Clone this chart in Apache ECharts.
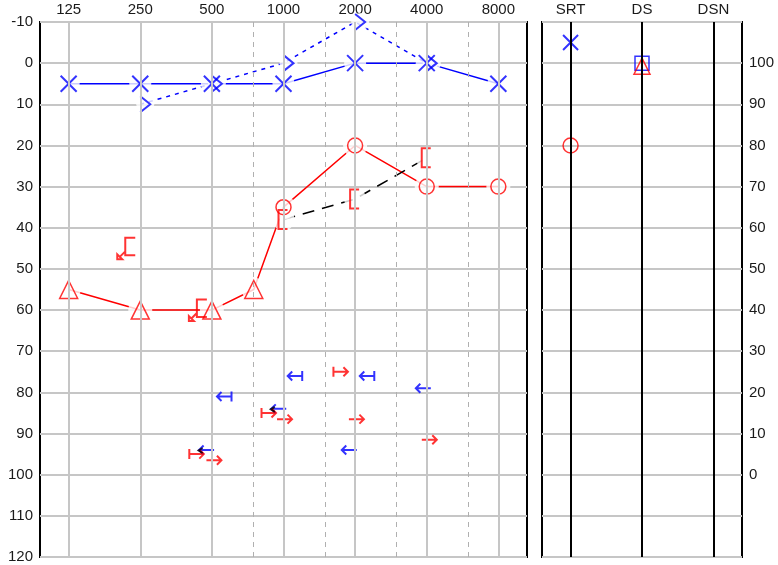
<!DOCTYPE html>
<html>
<head>
<meta charset="utf-8">
<script src="https://cdn.jsdelivr.net/npm/echarts@6/dist/echarts.min.js"></script>
<style>
  html, body { margin: 0; padding: 0; background: #fff; }
  #chart { width: 778px; height: 565px; }
</style>
</head>
<body>
<div id="chart"></div>
<script>
// top axis labels (Hz) and half-octave dashed lines
var freqLabels = [125, 250, 500, 1000, 2000, 4000, 8000];
var halfOctaves = [750, 1500, 3000, 6000];
var speechCols = ['SRT', 'DS', 'DSN'];

// left ear, air conduction (X)
var leftAirFreq = [125, 250, 500, 1000, 2000, 4000, 8000];
var leftAirDb = [5, 5, 5, 5, 0, 0, 5];
// left ear, bone conduction (>)
var leftBoneFreq = [250, 500, 1000, 2000, 4000];
var leftBoneDb = [10, 5, 0, -10, 0];
// right ear, masked air (triangles)
var rightTriFreq = [125, 250, 500, 750];
var rightTriDb = [55, 60, 60, 55];
// right ear, air (O)
var rightCircFreq = [1000, 2000, 4000, 8000];
var rightCircDb = [35, 20, 30, 30];
// right ear, masked bone ([)
var rightBoneFreq = [1000, 2000, 4000];
var rightBoneDb = [38, 33, 23];
// masked bone, no response
var rightBoneNrFreq = [250, 500];
var rightBoneNrDb = [45, 60];

// arrow marks in the lower part
var blueBarArrowFreq = [1120, 2250, 565];
var blueBarArrowDb = [76, 76, 81];
var blueArrowFreq = [3870, 955, 1890, 475];
var blueArrowDb = [79, 84, 94, 94];
var redBarArrowFreq = [1735, 865, 430];
var redBarArrowDb = [75, 85, 95];
var redArrowFreq = [1010, 2025, 4100, 510];
var redArrowDb = [86.5, 86.5, 91.5, 96.5];
var blackHeadFreq = [955, 475];
var blackHeadDb = [84, 94];

// speech panel
var srtLeftDb = [-5];
var srtRightDb = [20];
var dsLeftPct = [100];
var dsRightPct = [100];

var BLUE = '#0000ff', RED = '#ff0000', GRID = '#c6c6c6';

function oct(f) { return Math.log2(f / 125); }
function pts(fs, ds) { return fs.map(function (f, i) { return [oct(f), ds[i]]; }); }

// symbols drawn in square boxes (leading moves fix the box)
var SYM = {
  x: 'path://M0,0L16,16M16,0L0,16',
  bone: 'path://M0,0M17,17M3.5,0.5L13.5,8.5L3.5,16.5',
  bracket: 'path://M0,0M20,20M14,0.5L5,0.5L5,19.5L14,19.5',
  bracketNr: 'path://M0,0M22,22M20,0.5L10,0.5L10,18L20,18M10,14L4,20M2,22L2,17L7,22Z',
  leftBar: 'path://M0,0M16,16M15,3L15,13M15,8L0.5,8M5,3.5L0.5,8L5,12.5',
  left: 'path://M0,0M16,16M15.5,8L0.5,8M5,3.5L0.5,8L5,12.5',
  rightBar: 'path://M0,0M16,16M1,3L1,13M1,8L15.5,8M11,3.5L15.5,8L11,12.5',
  right: 'path://M0,0M16,16M0.5,8L15.5,8M11,3.5L15.5,8L11,12.5',
  head: 'path://M0,0M8,8M5,2L1,4.5L5,7'
};

function marks(data, symbol, size, color, extra) {
  var s = {
    type: 'scatter', data: data, symbol: symbol, symbolSize: size,
    silent: true, z: 4,
    itemStyle: { color: 'rgba(0,0,0,0)', borderColor: color, borderWidth: 2, borderType: 'solid' }
  };
  for (var k in extra) s[k] = extra[k];
  if (!s.xAxisIndex) { s.xAxisIndex = 0; s.yAxisIndex = 0; }
  return s;
}
function mask(data, size, offset) {
  return {
    type: 'scatter', data: data, symbol: 'circle', symbolSize: size,
    symbolOffset: offset || [0, 0], silent: true, z: 3,
    itemStyle: { color: '#fff' }
  };
}
function curve(data, color, type, width) {
  return {
    type: 'line', data: data, symbol: 'none', silent: true, z: 2,
    lineStyle: { color: color, width: width || 1.5, type: type || 'solid' }
  };
}

var redAll = pts(rightTriFreq.concat(rightCircFreq), rightTriDb.concat(rightCircDb));

var chart = echarts.init(document.getElementById('chart'));
var font = { fontFamily: 'Liberation Sans, Arial, sans-serif', fontSize: 15, color: '#1a1a1a' };
var thin = function (c) { return { color: 'rgba(0,0,0,0)', borderColor: c, borderWidth: 1.5 }; };

chart.setOption({
  animation: false,
  backgroundColor: '#fff',
  grid: [
    { left: 40, top: 22, width: 487, height: 535, show: true, borderColor: '#000', borderWidth: 2 },
    { left: 542, top: 22, width: 200, height: 535, show: true, borderColor: '#000', borderWidth: 2 }
  ],
  xAxis: [
    {
      gridIndex: 0, type: 'value', position: 'top', min: -0.4, max: 6.4,
      axisLine: { show: false }, axisTick: { show: false }, splitLine: { show: false },
      axisLabel: Object.assign({}, font, {
        margin: 5,
        customValues: [0, 1, 2, 3, 4, 5, 6],
        formatter: function (v) {
          var i = Math.round(v);
          return Math.abs(v - i) < 1e-6 && i >= 0 && i < freqLabels.length ? String(freqLabels[i]) : '';
        }
      })
    },
    {
      gridIndex: 1, type: 'value', position: 'top', min: -0.4, max: 2.4,
      axisLine: { show: false }, axisTick: { show: false }, splitLine: { show: false },
      axisLabel: Object.assign({}, font, {
        margin: 5,
        customValues: [0, 1, 2],
        formatter: function (v) {
          var i = Math.round(v);
          return Math.abs(v - i) < 1e-6 && i >= 0 && i < speechCols.length ? speechCols[i] : '';
        }
      })
    }
  ],
  yAxis: [
    {
      gridIndex: 0, type: 'value', inverse: true, min: -10, max: 120, interval: 10,
      axisLine: { show: false }, axisTick: { show: false },
      splitLine: { lineStyle: { color: GRID, width: 2 } },
      axisLabel: Object.assign({}, font, { margin: 7, interval: 0 })
    },
    {
      gridIndex: 1, type: 'value', position: 'left', inverse: true, min: -10, max: 120, interval: 10,
      axisLine: { show: false }, axisTick: { show: false }, axisLabel: { show: false },
      splitLine: { lineStyle: { color: GRID, width: 2 } }
    },
    {
      gridIndex: 1, type: 'value', position: 'right', min: -20, max: 110, interval: 10,
      axisLine: { show: false }, axisTick: { show: false }, splitLine: { show: false },
      axisLabel: Object.assign({}, font, {
        margin: 7, interval: 0,
        formatter: function (v) { return v >= 0 && v <= 100 ? String(v) : ''; }
      })
    }
  ],
  series: [
    // vertical grid lines, main panel
    {
      type: 'line', data: [], xAxisIndex: 0, yAxisIndex: 0, z: 1,
      markLine: {
        silent: true, symbol: 'none', label: { show: false }, animation: false,
        data: freqLabels.map(function (f) {
          return { xAxis: oct(f), lineStyle: { color: GRID, width: 2, type: 'solid' } };
        }).concat(halfOctaves.map(function (f) {
          return { xAxis: oct(f), lineStyle: { color: '#b0b0b0', width: 1, type: [5, 5] } };
        }))
      }
    },
    // black column lines, speech panel
    {
      type: 'line', data: [], xAxisIndex: 1, yAxisIndex: 1, z: 1,
      markLine: {
        silent: true, symbol: 'none', label: { show: false }, animation: false,
        lineStyle: { color: '#000', width: 2, type: 'solid' },
        data: [{ xAxis: 0 }, { xAxis: 1 }, { xAxis: 2 }]
      }
    },

    // connecting lines
    curve(pts(leftAirFreq, leftAirDb), BLUE),
    curve(pts(leftBoneFreq, leftBoneDb), BLUE, [4, 5]),
    curve(redAll, RED),
    curve(pts(rightBoneFreq, rightBoneDb), '#000', [12, 8]),

    // white gaps around the plotted symbols
    mask(pts(leftAirFreq, leftAirDb), 22),
    mask(pts(leftBoneFreq, leftBoneDb), 18, [5, 0]),
    mask(redAll, 24),
    mask(pts(rightBoneFreq, rightBoneDb), 22),

    // symbols
    marks(pts(leftAirFreq, leftAirDb), SYM.x, 16, BLUE),
    marks(pts(leftBoneFreq, leftBoneDb), SYM.bone, 17, BLUE, { symbolOffset: [5, 0] }),
    marks(pts(rightTriFreq, rightTriDb), 'triangle', 18, RED, { itemStyle: thin(RED) }),
    marks(pts(rightCircFreq, rightCircDb), 'circle', 15, RED, { itemStyle: thin(RED) }),
    marks(pts(rightBoneFreq, rightBoneDb), SYM.bracket, 20, RED),
    marks(pts(rightBoneNrFreq, rightBoneNrDb), SYM.bracketNr, 22, RED, { symbolOffset: [-14, 0] }),

    marks(pts(blueBarArrowFreq, blueBarArrowDb), SYM.leftBar, 16, BLUE),
    marks(pts(blueArrowFreq, blueArrowDb), SYM.left, 16, BLUE),
    marks(pts(redBarArrowFreq, redBarArrowDb), SYM.rightBar, 16, RED),
    marks(pts(redArrowFreq, redArrowDb), SYM.right, 16, RED),
    marks(pts(blackHeadFreq, blackHeadDb), SYM.head, 8, '#000', { symbolOffset: [-5, 0], z: 5 }),

    // speech panel
    marks(srtLeftDb.map(function (d) { return [0, d]; }), SYM.x, 15, BLUE, { xAxisIndex: 1, yAxisIndex: 1 }),
    marks(srtRightDb.map(function (d) { return [0, d]; }), 'circle', 15, RED, { xAxisIndex: 1, yAxisIndex: 1, itemStyle: thin(RED) }),
    marks(dsLeftPct.map(function (p) { return [1, p]; }), 'rect', 14, BLUE, { xAxisIndex: 1, yAxisIndex: 2, itemStyle: thin(BLUE) }),
    marks(dsRightPct.map(function (p) { return [1, p]; }), 'triangle', 16, RED, { xAxisIndex: 1, yAxisIndex: 2, symbolOffset: [0, 3], itemStyle: thin(RED) })
  ]
});
</script>
</body>
</html>
